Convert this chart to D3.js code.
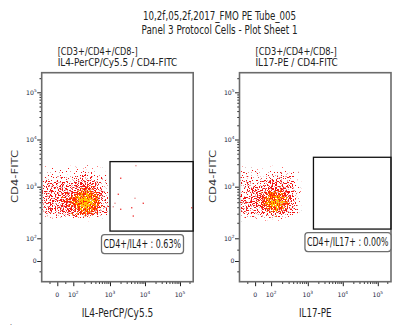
<!DOCTYPE html>
<html>
<head>
<meta charset="utf-8">
<script src="https://cdn.jsdelivr.net/npm/d3@7"></script>
<style>
  body { margin: 0; background: #fff; }
  svg { display: block; }
</style>
</head>
<body>
<div id="chart"></div>
<script>
// ---- data ----
const sheetTitle = ['10,2f,05,2f,2017_FMO PE Tube_005', 'Panel 3 Protocol Cells - Plot Sheet 1'];
const panelNames = ['IL4', 'IL17'];
const panelTitles = [['[CD3+/CD4+/CD8-]', 'IL4-PerCP/Cy5.5 / CD4-FITC'], ['[CD3+/CD4+/CD8-]', 'IL17-PE / CD4-FITC']];
const xLabels = ['IL4-PerCP/Cy5.5', 'IL17-PE'];
const yLabel = 'CD4-FITC';

// bin edges (fluorescence units) used to read event density, rows top -> bottom
const binEdgesX = [-100, -60, -30, 5, 40, 75, 110, 155, 220, 310, 435, 615, 870];
const binEdgesY = [2800, 2200, 1700, 1350, 1050, 835, 670, 535, 430, 345, 275, 220];
// relative density 0..9
const densityIL4 = [
  [1,1,1,1,1,1,1,1,2,1,1,0],
  [2,2,2,2,2,2,2,3,3,3,2,1],
  [3,3,3,3,3,3,4,4,4,4,3,2],
  [4,4,4,4,4,5,5,5,6,5,4,3],
  [4,5,5,5,5,5,6,6,7,6,5,3],
  [5,5,5,5,6,6,7,8,8,7,6,4],
  [5,5,5,6,6,7,8,9,9,8,6,4],
  [5,5,5,6,6,7,8,9,9,8,6,4],
  [4,5,5,5,6,6,7,8,8,7,6,4],
  [4,4,4,5,5,6,6,7,7,6,5,3],
  [1,1,1,1,1,1,1,1,1,1,1,0]
];
const densityIL17 = [
  [1,1,1,1,1,1,1,1,1,1,0,0],
  [2,2,2,2,2,3,3,3,2,2,1,0],
  [3,3,3,3,3,4,4,4,3,3,1,0],
  [4,4,4,4,5,5,5,5,5,4,2,0],
  [4,4,5,5,5,6,6,6,6,4,2,0],
  [5,5,5,6,6,7,7,7,6,5,2,0],
  [5,5,5,6,7,8,8,8,7,5,3,0],
  [5,5,5,6,7,8,9,8,7,5,3,0],
  [4,5,5,5,6,7,8,7,6,5,2,0],
  [4,4,4,5,5,6,6,6,5,4,2,0],
  [1,1,1,1,1,1,1,1,1,1,0,0]
];
// rectangular gates [min, max]
const gateIL4X = [1000, 262143], gateIL4Y = [138, 3400];
const gateIL17X = [1450, 262143], gateIL17Y = [151, 4200];
const gateLabels = ['CD4+/IL4+ : 0.63%', 'CD4+/IL17+ : 0.00%'];
// single events inside the IL4 gate [x, y]
const eventsIL4Gate = [[5500,2790],[2020,1510],[1730,713],[5180,596],[8940,477],[4170,391],
                       [1240,409],[2020,365],[4630,270],[1390,477],[262143,391]];
const eventsIL17Gate = [];

const majorTicks = [0, 100, 1000, 10000, 100000];
const majorExp = [null, 2, 3, 4, 5];
const minorTicks = [-50, 50, 200, 300, 400, 500, 600, 700, 800, 900,
  2000, 3000, 4000, 5000, 6000, 7000, 8000, 9000,
  20000, 30000, 40000, 50000, 60000, 70000, 80000, 90000, 200000];
const axisMax = 262143;

// ---- layout ----
const W = 398, H = 327;
const plotTop = 72.7, plotW = 151.5, plotH = 209;
const panelX = [41.7, 239.5];
const narrow = '"Liberation Sans Narrow", "DejaVu Sans Condensed", "Liberation Sans", sans-serif';

// biexponential-like display transform: linear below 100, log above
const T = v => v >= 100 ? Math.log10(v) : 1 + v / 100;
const tDomain = [0, 1, 2, 3, 4, 5, T(axisMax)];
const xRel = [0, 15.6, 31.6, 68.3, 103.3, 138.3, plotW];
const yRel = [plotH, 188.3, 165.6, 114, 66.8, 19.6, 0];

const svg = d3.select('#chart').append('svg').attr('width', W).attr('height', H);
const defs = svg.append('defs');

// fit a text element to a width
function fit(sel, w){
  sel.attr('textLength', w).attr('lengthAdjust', 'spacingAndGlyphs');
}

svg.append('g').attr('font-family', narrow).attr('font-size', 11.5).attr('fill', '#222')
  .selectAll('text').data(sheetTitle).enter().append('text')
  .attr('x', 219.6).attr('y', (d, i) => 20 + i * 14.3)
  .attr('text-anchor', 'middle')
  .text(d => d)
  .each(function(d, i){ fit(d3.select(this), i ? 156 : 153); });

const densities = [densityIL4, densityIL17];
const gatesX = [gateIL4X, gateIL17X], gatesY = [gateIL4Y, gateIL17Y];
const gateEvents = [eventsIL4Gate, eventsIL17Gate];
const titleW = [[80, 119.6], [81.3, 82.3]];
const labelW = [77.5, 81.5];
const xLabelW = [71.6, 32.4];

// speckled dot layers: pale, red, hot centre
const layers = [
  {key: 'pale', seed: 5, fill: d => '#e7a3a3', alpha: d => d / 9 * 0.55},
  {key: 'red', seed: 17, fill: d => d > 6 ? '#ff2a08' : '#f41414', alpha: d => d / 9 * 0.72},
  {key: 'hot', seed: 29, fill: d => d > 7 ? '#ffc400' : '#ff8a00', alpha: d => Math.max(0, d - 5) / 4 * 0.62}
];

function speckleFilter(id, x0, seed){
  const f = defs.append('filter').attr('id', id)
    .attr('filterUnits', 'userSpaceOnUse')
    .attr('x', x0 - 10).attr('y', plotTop).attr('width', plotW + 20).attr('height', plotH)
    .attr('color-interpolation-filters', 'sRGB');
  f.append('feGaussianBlur').attr('in', 'SourceGraphic').attr('stdDeviation', 1.5).attr('result', 'b');
  f.append('feTurbulence').attr('type', 'fractalNoise').attr('baseFrequency', 0.8)
    .attr('numOctaves', 2).attr('seed', seed).attr('result', 't');
  f.append('feColorMatrix').attr('in', 't').attr('type', 'matrix')
    .attr('values', '0 0 0 0 0  0 0 0 0 0  0 0 0 0 0  1.8 0 0 0 -0.4').attr('result', 'n');
  f.append('feComposite').attr('in', 'b').attr('in2', 'n').attr('operator', 'arithmetic')
    .attr('k1', 0).attr('k2', 6).attr('k3', 6).attr('k4', -6).attr('result', 'm');
  f.append('feComposite').attr('in', 'b').attr('in2', 'm').attr('operator', 'in').attr('result', 'c');
  f.append('feComponentTransfer').attr('in', 'c')
    .append('feFuncA').attr('type', 'linear').attr('slope', 30).attr('intercept', 0);
}

panelNames.forEach((name, k) => {
  const x0 = panelX[k];
  const xT = d3.scaleLinear().domain(tDomain).range(xRel.map(r => x0 + r));
  const yT = d3.scaleLinear().domain(tDomain).range(yRel.map(r => plotTop + r));
  const x = v => xT(T(v)), y = v => yT(T(v));
  const g = svg.append('g').attr('id', `panel_${name}`);

  // titles
  g.append('g').attr('font-family', narrow).attr('font-size', 11).attr('fill', '#222')
    .selectAll('text').data(panelTitles[k]).enter().append('text')
    .attr('x', x0 + 16).attr('y', (d, i) => 54.5 + i * 11.6)
    .text(d => d)
    .each(function(d, i){ fit(d3.select(this), titleW[k][i]); });

  defs.append('clipPath').attr('id', `clip_${name}`)
    .append('rect').attr('x', x0).attr('y', plotTop).attr('width', plotW).attr('height', plotH);

  const cells = [];
  densities[k].forEach((row, i) => row.forEach((d, j) => {
    if (d > 0) cells.push({i, j, d});
  }));
  const cloud = g.append('g').attr('clip-path', `url(#clip_${name})`);
  layers.forEach(L => {
    speckleFilter(`speckle_${name}_${L.key}`, x0, L.seed + k * 7);
    cloud.append('g').attr('filter', `url(#speckle_${name}_${L.key})`)
      .selectAll('rect').data(cells).enter().append('rect')
      .attr('x', c => x(binEdgesX[c.j]))
      .attr('width', c => x(binEdgesX[c.j + 1]) - x(binEdgesX[c.j]))
      .attr('y', c => y(binEdgesY[c.i]))
      .attr('height', c => y(binEdgesY[c.i + 1]) - y(binEdgesY[c.i]))
      .attr('fill', c => L.fill(c.d))
      .attr('fill-opacity', c => L.alpha(c.d))
      .attr('shape-rendering', 'crispEdges');
  });

  // single gated events
  g.append('g').selectAll('rect').data(gateEvents[k]).enter().append('rect')
    .attr('x', d => Math.min(x(d[0]), x0 + plotW - 1.4) - 0.7).attr('y', d => y(d[1]) - 0.7)
    .attr('width', 1.4).attr('height', 1.4)
    .attr('fill', (d, i) => i % 3 ? '#f04848' : '#e89a9a');

  // axes
  const minorT = minorTicks.map(T), majorT = majorTicks.map(T);
  const xAxis = gg => gg.attr('transform', `translate(0,${plotTop + plotH})`)
    .call(gg => gg.append('g').call(d3.axisBottom(xT).tickValues(minorT).tickSize(2.2).tickFormat('')))
    .call(gg => gg.append('g').call(d3.axisBottom(xT).tickValues(majorT).tickSize(4.5).tickFormat('')))
    .call(gg => gg.selectAll('.domain').remove())
    .call(gg => gg.selectAll('.tick line').attr('stroke', '#222').attr('stroke-width', 1));
  const yAxis = gg => gg.attr('transform', `translate(${x0},0)`)
    .call(gg => gg.append('g').call(d3.axisLeft(yT).tickValues(minorT).tickSize(2.2).tickFormat('')))
    .call(gg => gg.append('g').call(d3.axisLeft(yT).tickValues(majorT).tickSize(4.5).tickFormat('')))
    .call(gg => gg.selectAll('.domain').remove())
    .call(gg => gg.selectAll('.tick line').attr('stroke', '#222').attr('stroke-width', 1));
  g.append('g').call(xAxis);
  g.append('g').call(yAxis);

  // tick labels with superscripts
  const tl = g.append('g').attr('font-family', '"DejaVu Sans", sans-serif').attr('font-size', 6.2).attr('fill', '#1c2540');
  majorTicks.forEach((v, i) => {
    const tx = tl.append('text').attr('x', x(v)).attr('y', plotTop + plotH + 15).attr('text-anchor', 'middle');
    const ty = tl.append('text').attr('x', x0 - 5).attr('y', y(v) + 2.2).attr('text-anchor', 'end');
    [tx, ty].forEach(t => {
      if (majorExp[i] === null) { t.text('0'); return; }
      t.append('tspan').text('10');
      t.append('tspan').attr('dy', -2.6).attr('font-size', 4.3).text(majorExp[i]);
    });
  });

  // frame
  g.append('rect').attr('x', x0).attr('y', plotTop).attr('width', plotW).attr('height', plotH)
    .attr('fill', 'none').attr('stroke', '#6b6b6b').attr('stroke-width', 1.6);

  // gate
  const gx = gatesX[k], gy = gatesY[k];
  g.append('rect')
    .attr('x', x(gx[0])).attr('y', y(gy[1]))
    .attr('width', x(gx[1]) - x(gx[0])).attr('height', y(gy[0]) - y(gy[1]))
    .attr('fill', 'none').attr('stroke', '#111').attr('stroke-width', 1.3);

  // gate statistic box
  const bx = x(gx[0]) - 8.5, by = y(gy[0]) + 3.5;
  const bw = labelW[k] + 4.5;
  g.append('rect').attr('x', bx).attr('y', by).attr('width', Math.min(bw, x0 + plotW - bx)).attr('height', 19)
    .attr('rx', 3).attr('fill', '#fff').attr('stroke', '#6e6e6e').attr('stroke-width', 1.3);
  g.append('text').attr('x', bx + 2).attr('y', by + 13.6)
    .attr('font-family', narrow).attr('font-size', 11.5).attr('fill', '#1a1a1a')
    .text(gateLabels[k])
    .call(t => fit(t, labelW[k]));

  // axis titles
  g.append('text').attr('x', x0 + plotW / 2).attr('y', 316.5).attr('text-anchor', 'middle')
    .attr('font-family', narrow).attr('font-size', 11.5).attr('fill', '#222')
    .text(xLabels[k]).call(t => fit(t, xLabelW[k]));
  g.append('text').attr('transform', `translate(${x0 - 23.5},176.5) rotate(-90)`)
    .attr('text-anchor', 'middle')
    .attr('font-family', '"DejaVu Sans", sans-serif').attr('font-size', 9.5).attr('fill', '#333')
    .text(yLabel).call(t => fit(t, 53));
});

svg.append('text').attr('x', 10).attr('y', 325).attr('font-size', 8).attr('fill', '#333').text('.');
</script>
</body>
</html>
